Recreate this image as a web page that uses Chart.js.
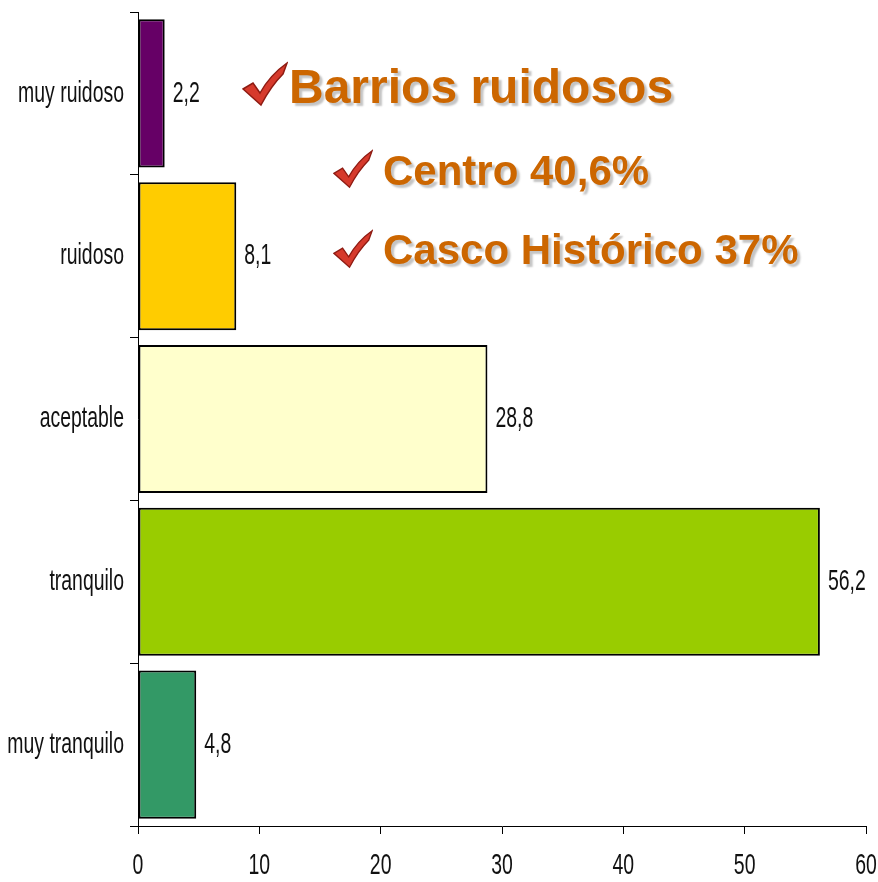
<!DOCTYPE html>
<html>
<head>
<meta charset="utf-8">
<script src="https://cdn.jsdelivr.net/npm/chart.js@4.4.1/dist/chart.umd.min.js"></script>
<style>
  html, body { margin: 0; padding: 0; background: #fff; }
  #wrap { position: relative; width: 878px; height: 882px; }
  canvas { display: block; }
  .note {
    position: absolute;
    font-family: 'Liberation Sans', Arial, sans-serif;
    font-weight: bold;
    color: #CC6600;
    white-space: nowrap;
    text-shadow: 3px 3px 2px #c4c4c4;
    line-height: 1;
  }
  .check { position: absolute; }
</style>
</head>
<body>
<div id="wrap">
  <canvas id="chart" width="878" height="882"></canvas>

  <svg class="check" style="left:242px;top:61px" width="46" height="46" viewBox="0 0 46 46">
    <path d="M1,28 L11,22 L18,32 Q28,14 45,2 L41,13 Q29,25 19,44 Z" fill="#D63A2C" stroke="#8E1B12" stroke-width="1.5"/>
  </svg>
  <div class="note" style="left:289px;top:63px;font-size:48px">Barrios ruidosos</div>

  <svg class="check" style="left:333px;top:149px" width="40" height="40" viewBox="0 0 46 46">
    <path d="M1,28 L11,22 L18,32 Q28,14 45,2 L41,13 Q29,25 19,44 Z" fill="#D63A2C" stroke="#8E1B12" stroke-width="1.5"/>
  </svg>
  <div class="note" style="left:383px;top:150px;font-size:42px">Centro 40,6%</div>

  <svg class="check" style="left:333px;top:229px" width="40" height="40" viewBox="0 0 46 46">
    <path d="M1,28 L11,22 L18,32 Q28,14 45,2 L41,13 Q29,25 19,44 Z" fill="#D63A2C" stroke="#8E1B12" stroke-width="1.5"/>
  </svg>
  <div class="note" style="left:383px;top:229px;font-size:42px">Casco Histórico 37%</div>
</div>

<script>
// Noise perception by category (percent)
const categories = ['muy ruidoso', 'ruidoso', 'aceptable', 'tranquilo', 'muy tranquilo'];
const values = [2.2, 8.1, 28.8, 56.2, 4.8];
const barColors = ['#660066', '#FFCC00', '#FFFFCC', '#99CC00', '#339966'];
const xTicks = [0, 10, 20, 30, 40, 50, 60];

// the original uses a tall narrow font, so text is drawn squeezed/stretched
const labelFont = "24px 'Liberation Sans', Arial, sans-serif";
const SX = 0.81, SY = 1.25;

function drawStretched(ctx, txt, x, y, align) {
    ctx.save();
    ctx.translate(x, y);
    ctx.scale(SX, SY);
    ctx.textAlign = align;
    ctx.textBaseline = 'middle';
    ctx.fillText(txt, 0, 0);
    ctx.restore();
}

// axis labels + value labels next to each bar
const textLayer = {
    id: 'textLayer',
    afterDraw(chart) {
        const ctx = chart.ctx;
        const xs = chart.scales.x, ys = chart.scales.y;
        ctx.save();
        ctx.font = labelFont;
        ctx.fillStyle = '#111';

        categories.forEach((c, i) => {
            drawStretched(ctx, c, ys.left + ys.width - 14, ys.getPixelForTick(i), 'right');
        });
        xTicks.forEach(v => {
            drawStretched(ctx, String(v), xs.getPixelForValue(v), xs.top + 40, 'center');
        });
        chart.getDatasetMeta(0).data.forEach((bar, i) => {
            const txt = String(values[i]).replace('.', ',');
            drawStretched(ctx, txt, bar.x + 8, bar.y, 'left');
        });
        ctx.restore();
    }
};

new Chart(document.getElementById('chart'), {
    type: 'bar',
    data: {
        labels: categories,
        datasets: [{
            data: values,
            backgroundColor: barColors,
            borderColor: '#000',
            borderWidth: 2,
            borderSkipped: false,
            barPercentage: 0.91,
            categoryPercentage: 1
        }]
    },
    options: {
        indexAxis: 'y',
        responsive: false,
        animation: false,
        layout: { padding: { top: 12, right: 12, left: 0, bottom: 0 } },
        plugins: {
            legend: { display: false },
            tooltip: { enabled: false }
        },
        scales: {
            x: {
                min: 0,
                max: 60,
                afterBuildTicks(axis) {
                    axis.ticks = xTicks.map(v => ({ value: v }));
                },
                afterFit(axis) { axis.height = 56; },
                grid: { drawOnChartArea: false, tickLength: 8, color: '#000' },
                border: { color: '#000', width: 1 },
                ticks: { display: false }
            },
            y: {
                afterFit(axis) { axis.width = 138; },
                grid: { offset: true, drawOnChartArea: false, tickLength: 8, color: '#000' },
                border: { color: '#000', width: 1 },
                ticks: { display: false }
            }
        }
    },
    plugins: [textLayer]
});
</script>
</body>
</html>
